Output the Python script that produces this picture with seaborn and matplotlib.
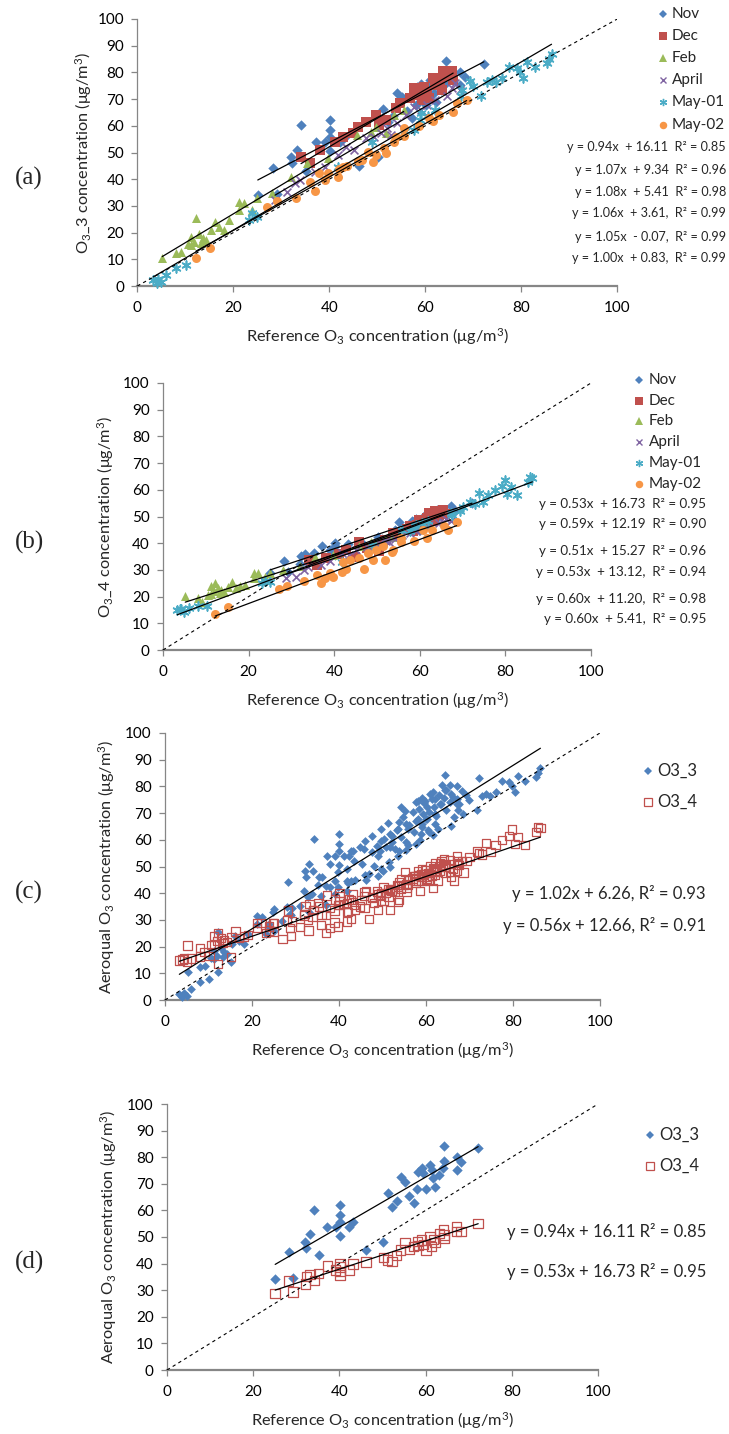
import numpy as np
import pandas as pd
import matplotlib
matplotlib.use("Agg")
import matplotlib.pyplot as plt
import seaborn as sns
from matplotlib.lines import Line2D

# ---------------- data ----------------
months = ["Nov", "Dec", "Feb", "April", "May-01", "May-02"]

nov_ref = [25.1, 28.2, 29.2, 32.3, 32.1, 33.2, 34.2, 35.2, 37.2, 39.1, 40.1, 40.1, 40.1, 40.1,
           42.3, 43.2, 46.2, 50.2, 51.2, 52.2, 53.3, 54.2, 55.2, 56.2, 57.2, 58.1, 58.2, 59.1,
           59.5, 60.1, 61.0, 61.4, 61.8, 62.2, 63.2, 64.1, 64.3, 64.3, 67.2, 67.2, 68.2, 72.2]
nov_o33 = [34.1, 44.2, 34.5, 46.0, 48.2, 51.1, 60.2, 43.2, 53.9, 53.9, 62.0, 58.3, 55.8, 50.5,
           53.9, 55.8, 45.1, 48.2, 66.4, 61.4, 63.7, 72.4, 70.8, 65.4, 62.9, 67.9, 74.6, 75.8,
           73.9, 67.9, 77.1, 75.2, 72.1, 68.9, 73.3, 75.8, 78.6, 84.3, 80.2, 75.2, 78.1, 83.3]
nov_o34 = [28.8, 33.5, 29.4, 35.1, 32.3, 36.0, 33.6, 36.3, 39.1, 37.6, 40.1, 35.7, 38.8, 37.0,
           37.6, 39.8, 40.6, 42.2, 41.4, 40.7, 43.0, 45.1, 47.9, 45.4, 46.4, 48.2, 46.9, 48.9,
           47.2, 45.1, 50.1, 46.4, 49.1, 47.9, 51.4, 52.6, 49.7, 50.8, 53.9, 52.0, 52.0, 55.1]

dec_ref = [34.1, 36.0, 38.0, 41.1, 42.8, 44.9, 45.9, 47.6, 49.7, 50.4, 51.8, 53.8, 54.8, 56.9,
           57.6, 58.3, 59.3, 59.7, 60.3, 60.7, 61.7, 62.1, 63.1, 63.4, 63.6, 64.5, 65.5, 65.8]
dec_o33 = [48.4, 46.2, 50.9, 54.1, 55.9, 57.2, 59.7, 61.6, 64.1, 60.3, 62.2, 66.6, 68.5, 70.3,
           74.1, 71.6, 69.7, 74.5, 72.2, 70.3, 77.8, 75.3, 76.6, 73.5, 80.4, 78.5, 80.4, 77.2]
dec_o34 = [33.8, 31.9, 34.5, 36.0, 37.5, 35.0, 40.5, 38.2, 39.5, 37.0, 41.2, 44.0, 43.0, 45.5,
           46.5, 44.5, 47.0, 48.8, 46.0, 47.5, 49.5, 51.3, 48.5, 50.0, 52.0, 50.5, 52.5, 51.0]

feb_ref = [5.2, 8.1, 9.1, 10.5, 11.2, 11.2, 11.9, 12.2, 12.9, 13.3, 13.6, 14.3, 15.3, 16.2,
           17.0, 18.1, 19.1, 21.2, 21.2, 22.2, 23.9, 24.9, 28.0, 32.0, 35.4, 39.7, 45.8, 48.7,
           49.7, 51.8, 53.5, 55.5]
feb_o33 = [10.5, 12.5, 12.8, 15.9, 18.4, 15.3, 16.5, 25.3, 19.6, 16.1, 17.8, 17.1, 20.9, 24.0,
           22.2, 20.9, 24.7, 31.5, 28.4, 31.2, 28.4, 32.8, 34.9, 40.9, 45.9, 47.8, 56.6, 57.8,
           59.7, 57.2, 64.1, 66.0]
feb_o34 = [20.4, 19.4, 18.1, 20.5, 23.8, 21.0, 22.0, 25.0, 23.1, 21.3, 22.5, 21.8, 23.5, 25.6,
           23.1, 23.8, 24.4, 28.8, 27.0, 28.8, 27.5, 28.8, 30.0, 31.6, 35.0, 35.5, 39.0, 40.6,
           40.0, 41.5, 42.5, 43.5]

apr_ref = [28.7, 31.1, 32.9, 33.9, 37.0, 39.0, 41.8, 43.5, 45.2, 47.6, 49.4, 50.7, 52.1, 52.8,
           54.2, 55.9, 57.6, 59.0, 60.3, 62.1, 64.5, 65.5, 66.2, 67.2]
apr_o33 = [32.2, 35.3, 38.7, 39.7, 42.8, 44.7, 49.1, 52.2, 50.9, 55.3, 55.9, 57.2, 59.1, 56.6,
           61.0, 64.1, 67.2, 66.0, 67.8, 69.7, 71.0, 74.1, 76.0, 73.5]
apr_o34 = [27.0, 27.3, 30.0, 31.0, 31.9, 33.5, 36.3, 35.5, 37.5, 38.5, 39.0, 40.0, 41.0, 40.5,
           41.5, 43.0, 44.0, 44.5, 45.5, 46.9, 47.5, 48.0, 49.0, 48.5]

may1_ref = [3.3, 4.0, 4.3, 5.0, 6.0, 8.1, 10.2, 23.2, 23.9, 25.0, 41.9, 48.9, 55.8, 57.6,
            58.9, 59.0, 60.5, 62.0, 67.4, 67.6, 69.3, 70.0, 71.7, 72.9, 73.8, 74.8, 76.0, 77.5,
            79.1, 79.8, 80.4, 81.2, 82.8, 85.3, 85.7, 86.3]
may1_o33 = [2.1, 1.0, 2.8, 1.5, 4.0, 6.8, 7.8, 24.9, 27.2, 26.0, 44.5, 54.1, 58.0, 58.4,
            62.0, 64.7, 63.5, 66.0, 71.0, 73.5, 76.6, 75.0, 71.0, 76.3, 77.2, 76.5, 78.0, 81.9,
            81.6, 80.0, 78.0, 84.0, 82.0, 83.4, 85.0, 86.8]
may1_o34 = [14.8, 15.2, 15.5, 14.4, 15.6, 16.3, 16.5, 25.0, 26.0, 25.5, 33.0, 39.5, 45.0, 44.5,
            46.3, 47.0, 47.5, 48.5, 51.3, 50.5, 52.0, 53.5, 55.6, 54.5, 58.8, 55.5, 58.0, 60.0,
            61.5, 63.8, 58.5, 61.0, 58.0, 63.0, 64.9, 64.5]

may2_ref = [12.2, 15.1, 27.0, 29.0, 33.0, 35.9, 37.0, 37.9, 39.0, 39.7, 41.8, 42.0, 42.8, 43.7,
            45.9, 46.9, 48.0, 49.0, 49.7, 51.4, 51.8, 53.5, 53.8, 55.5, 55.5, 58.6, 60.7, 61.6,
            62.8, 65.7, 66.5, 68.6]
may2_o33 = [10.3, 14.3, 29.7, 31.9, 33.0, 39.0, 35.5, 42.4, 39.7, 42.2, 40.9, 43.7, 44.7, 45.1,
            46.8, 47.2, 50.3, 46.6, 49.1, 51.6, 49.7, 54.1, 55.9, 56.2, 59.1, 60.0, 62.8, 61.8,
            64.1, 65.0, 68.5, 69.7]
may2_o34 = [13.5, 16.0, 22.9, 24.0, 26.0, 28.1, 25.0, 26.9, 29.0, 27.5, 29.4, 32.9, 30.3, 33.8,
            34.4, 30.3, 36.3, 33.8, 37.3, 38.8, 33.8, 36.6, 37.5, 40.4, 41.9, 40.9, 44.8, 41.9,
            44.8, 46.3, 44.8, 47.8]

# trendline coefficients as printed on the chart
slope_o33 = [0.94, 1.07, 1.08, 1.06, 1.05, 1.00]
icpt_o33 = [16.11, 9.34, 5.41, 3.61, -0.07, 0.83]
slope_o34 = [0.53, 0.59, 0.51, 0.53, 0.60, 0.60]
icpt_o34 = [16.73, 12.19, 15.27, 13.12, 11.20, 5.41]
slope_all = [1.02, 0.56]
icpt_all = [6.26, 12.66]

eq_a = ["y = 0.94x  + 16.11  R\u00b2 = 0.85", "y = 1.07x  + 9.34  R\u00b2 = 0.96",
        "y = 1.08x  + 5.41  R\u00b2 = 0.98", "y = 1.06x  + 3.61,  R\u00b2 = 0.99",
        "y = 1.05x  - 0.07,  R\u00b2 = 0.99", "y = 1.00x  + 0.83,  R\u00b2 = 0.99"]
eq_b = ["y = 0.53x  + 16.73  R\u00b2 = 0.95", "y = 0.59x  + 12.19  R\u00b2 = 0.90",
        "y = 0.51x  + 15.27  R\u00b2 = 0.96", "y = 0.53x  + 13.12,  R\u00b2 = 0.94",
        "y = 0.60x  + 11.20,  R\u00b2 = 0.98", "y = 0.60x  + 5.41,  R\u00b2 = 0.95"]
eq_c = ["y = 1.02x + 6.26, R\u00b2 = 0.93", "y = 0.56x + 12.66, R\u00b2 = 0.91"]
eq_d = ["y = 0.94x + 16.11 R\u00b2 = 0.85", "y = 0.53x + 16.73 R\u00b2 = 0.95"]

sensors = ["O3_3", "O3_4"]
x_ticks = [0, 20, 40, 60, 80, 100]
y_ticks = [0, 10, 20, 30, 40, 50, 60, 70, 80, 90, 100]

refs = [nov_ref, dec_ref, feb_ref, apr_ref, may1_ref, may2_ref]
o33s = [nov_o33, dec_o33, feb_o33, apr_o33, may1_o33, may2_o33]
o34s = [nov_o34, dec_o34, feb_o34, apr_o34, may1_o34, may2_o34]
df = pd.concat([pd.DataFrame({"month": m, "ref": r, "o33": a, "o34": b})
                for m, r, a, b in zip(months, refs, o33s, o34s)], ignore_index=True)

# ---------------- style ----------------
sns.set_style("white")
plt.rcParams["font.family"] = ["Lato", "DejaVu Sans"]
plt.rcParams["mathtext.fontset"] = "custom"
plt.rcParams["mathtext.rm"] = "Lato"
plt.rcParams["mathtext.it"] = "Lato:italic"
plt.rcParams["mathtext.bf"] = "Lato:bold"

W, H = 729, 1434
fig = plt.figure(figsize=(W / 100, H / 100), dpi=100)

colors = {"Nov": "#4F81BD", "Dec": "#C0504D", "Feb": "#9BBB59",
          "April": "#8064A2", "May-01": "#4BACC6", "May-02": "#F79646"}
mk = {"Nov": "D", "Dec": "s", "Feb": "^", "April": "x", "May-01": (6, 2, 0), "May-02": "o"}
msize = {"Nov": 28, "Dec": 52, "Feb": 42, "April": 32, "May-01": 40, "May-02": 42}
filled = {"Nov": True, "Dec": True, "Feb": True, "April": False, "May-01": False, "May-02": True}
leg_ms = {"Nov": 4.0, "Dec": 5.4, "Feb": 5.4, "April": 4.8, "May-01": 5.2, "May-02": 5.4}

FS = 11
LFS = 11.8
AXC = "#868686"
UNIT = r" ($\mathregular{\mu}$g/m$^{\mathregular{3}}$)"
O3 = r"O$_{\mathregular{3}}$"


def px_rect(l, r, t, b):
    return [l / W, 1 - b / H, (r - l) / W, (b - t) / H]


def style_axes(ax, wpx, hpx, ylabel, ylab_off):
    ax.set_xlim(0, 100)
    ax.set_ylim(0, 100)
    ax.set_xticks(x_ticks)
    ax.set_yticks(y_ticks)
    ax.set_facecolor("none")
    for s in ["top", "right"]:
        ax.spines[s].set_visible(False)
    ax.spines["left"].set_color(AXC)
    ax.spines["left"].set_linewidth(0.9)
    ax.spines["bottom"].set_color(AXC)
    ax.spines["bottom"].set_linewidth(1.6)
    ax.tick_params(direction="out", length=4.5, width=0.9, color=AXC,
                   labelsize=FS, labelcolor="black", left=True, bottom=True)
    ax.tick_params(axis="x", pad=6)
    ax.tick_params(axis="y", pad=5)
    ax.set_xlabel("Reference " + O3 + " concentration" + UNIT, fontsize=LFS, va="center")
    ax.xaxis.set_label_coords(0.5, -51 / hpx)
    ax.set_ylabel(ylabel, fontsize=LFS, va="center")
    ax.yaxis.set_label_coords(-ylab_off / wpx, 0.5)
    ax.grid(False)


def one_to_one(ax):
    ax.axline((0, 0), slope=1, color="black", lw=0.8, ls=(0, (3, 3)), zorder=6)


def trend(ax, xs, s, b):
    xs = np.array([min(xs), max(xs)])
    ax.plot(xs, s * xs + b, color="black", lw=0.9, zorder=7)


def fig_text(xp, yp, txt, **kw):
    fig.text(xp / W, 1 - yp / H, txt, **kw)


def fig_marker(xp, yp, **kw):
    fig.add_artist(Line2D([xp / W], [1 - yp / H], transform=fig.transFigure, ls="none", **kw))


def month_panel(ax, ycol, slopes, icpts):
    for i, m in enumerate(months):
        sub = df[df.month == m]
        kw = dict(marker=mk[m], s=msize[m], color=colors[m], legend=False, ax=ax,
                  clip_on=False, zorder=3 + i * 0.1)
        if filled[m]:
            kw["linewidth"] = 0
        else:
            kw["linewidth"] = 1.2
        sns.scatterplot(data=sub, x="ref", y=ycol, **kw)
    for i, m in enumerate(months):
        sub = df[df.month == m]
        trend(ax, sub.ref, slopes[i], icpts[i])
    one_to_one(ax)


def month_legend(mx, tx, ys):
    for m, y in zip(months, ys):
        kw = dict(marker=mk[m], markersize=leg_ms[m], color=colors[m])
        if filled[m]:
            kw["markeredgewidth"] = 0
        else:
            kw["markeredgewidth"] = 1.0
        fig_marker(mx, y, **kw)
        fig_text(tx, y, m, fontsize=FS, ha="left", va="center")


def eqs(xr, ys, texts, fs):
    for t, y in zip(texts, ys):
        fig_text(xr, y, t, fontsize=fs, ha="right", va="center")


# ---------------- panel (a) ----------------
ax_a = fig.add_axes(px_rect(137.3, 617.3, 19, 286))
month_panel(ax_a, "o33", slope_o33, icpt_o33)
style_axes(ax_a, 480, 267, O3 + "_3 concentration" + UNIT, 54)
month_legend(663, 672, [14, 36, 58, 80, 102, 125])
eqs(726, [147, 170, 192, 213, 237, 258], eq_a, 9.1)
fig_text(29, 178, "(a)", family="Liberation Serif", fontsize=18, ha="center", va="center")

# ---------------- panel (b) ----------------
ax_b = fig.add_axes(px_rect(163, 591, 383, 650))
month_panel(ax_b, "o34", slope_o34, icpt_o34)
style_axes(ax_b, 428, 267, O3 + "_4 concentration" + UNIT, 57)
month_legend(639, 649, [380, 401, 421, 442, 463, 484])
eqs(706, [504, 524, 551, 572, 599, 619], eq_b, 9.6)
fig_text(29, 542, "(b)", family="Liberation Serif", fontsize=18, ha="center", va="center")


# ---------------- panels (c) and (d) ----------------
def sensor_panel(ax, data, slopes, icpts, ms3, ms4):
    sns.scatterplot(data=data, x="ref", y="o33", marker="D", s=ms3, color="#4F81BD",
                    linewidth=0, legend=False, ax=ax, clip_on=False, zorder=3)
    sns.scatterplot(data=data, x="ref", y="o34", marker="s", s=ms4, facecolor="none",
                    edgecolor="#C0504D", linewidth=0.9, legend=False, ax=ax, clip_on=False,
                    zorder=4)
    trend(ax, data.ref, slopes[0], icpts[0])
    trend(ax, data.ref, slopes[1], icpts[1])
    one_to_one(ax)


def sensor_legend(mx, tx, ys):
    fig_marker(mx, ys[0], marker="D", markersize=4.0, color="#4F81BD", markeredgewidth=0)
    fig_text(tx, ys[0], sensors[0], fontsize=12, ha="left", va="center")
    fig_marker(mx, ys[1], marker="s", markersize=5.4, markerfacecolor="none",
               markeredgecolor="#C0504D", markeredgewidth=0.9)
    fig_text(tx, ys[1], sensors[1], fontsize=12, ha="left", va="center")


ax_c = fig.add_axes(px_rect(165, 600, 733, 1000))
sensor_panel(ax_c, df, slope_all, icpt_all, 20, 36)
style_axes(ax_c, 435, 267, "Aeroqual " + O3 + " concentration" + UNIT, 58)
sensor_legend(648, 657, [771, 802])
eqs(706, [894, 926], eq_c, 12)
fig_text(29, 892, "(c)", family="Liberation Serif", fontsize=18, ha="center", va="center")

ax_d = fig.add_axes(px_rect(167, 598, 1104, 1370))
sensor_panel(ax_d, df[df.month == "Nov"], [slope_o33[0], slope_o34[0]],
             [icpt_o33[0], icpt_o34[0]], 28, 46)
style_axes(ax_d, 431, 266, "Aeroqual " + O3 + " concentration" + UNIT, 58)
sensor_legend(650, 659, [1135, 1166])
eqs(706, [1232, 1272], eq_d, 12)
fig_text(29, 1262, "(d)", family="Liberation Serif", fontsize=18, ha="center", va="center")

fig.savefig("out.png", dpi=100, facecolor="white")
